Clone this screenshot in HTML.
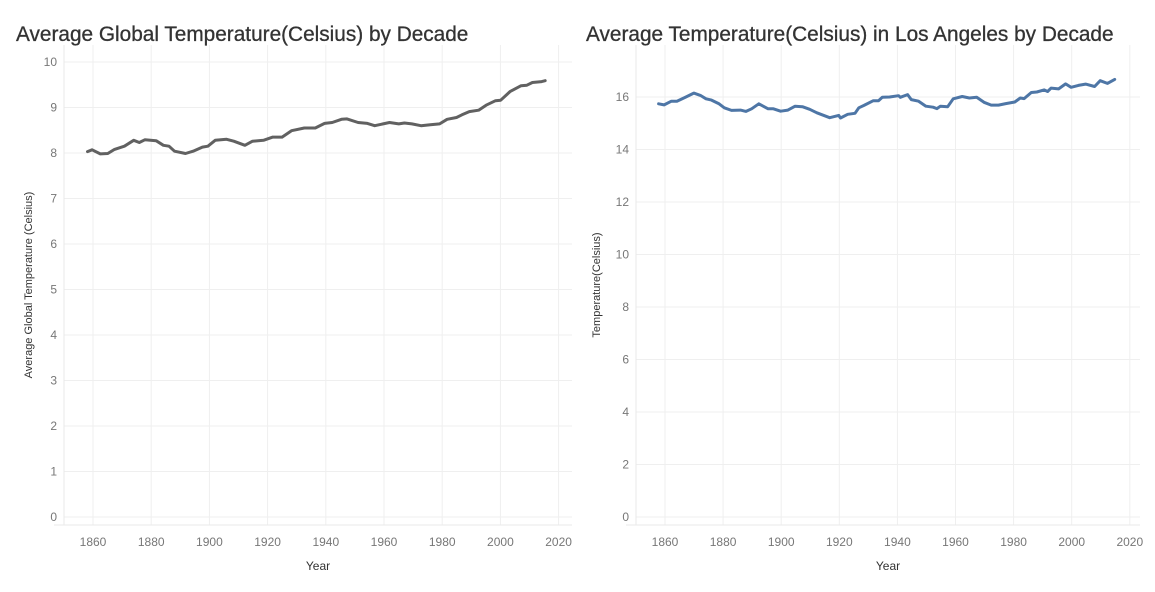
<!DOCTYPE html>
<html><head><meta charset="utf-8"><style>
html,body{margin:0;padding:0;background:#fff;width:1155px;height:592px;overflow:hidden;font-family:"Liberation Sans",sans-serif}
svg text{font-family:"Liberation Sans",sans-serif}
</style></head><body>
<svg id="chart" width="1155" height="592" xmlns="http://www.w3.org/2000/svg">
<text x="16" y="41" font-size="20.8" fill="#333" stroke="#333" stroke-width="0.3">Average Global Temperature(Celsius) by Decade</text>
<text x="586" y="41" font-size="20.8" fill="#333" stroke="#333" stroke-width="0.3">Average Temperature(Celsius) in Los Angeles by Decade</text>
</svg>
<script>
const xTicks = [1860,1880,1900,1920,1940,1960,1980,2000,2020];
const globalYTicks = [0,1,2,3,4,5,6,7,8,9,10];
const laYTicks = [0,2,4,6,8,10,12,14,16];
const globalYears = [1858.1,1859.7,1862.5,1865.1,1867.4,1870.8,1874.0,1875.9,1877.8,1881.7,1884.2,1886.1,1888.0,1891.8,1894.4,1897.6,1899.5,1902.0,1905.9,1908.4,1912.2,1914.8,1918.6,1921.8,1925.0,1928.2,1932.6,1936.4,1939.6,1942.2,1945.4,1947.3,1951.1,1954.3,1956.8,1961.9,1965.1,1967.0,1969.6,1972.7,1975.9,1979.1,1981.7,1984.9,1986.8,1989.3,1992.5,1995.1,1998.3,2000.1,2003.3,2007.1,2009.1,2011.0,2014.2,2015.4];
const globalTemps = [8.03,8.07,7.98,7.99,8.08,8.15,8.28,8.23,8.29,8.27,8.17,8.15,8.04,7.99,8.04,8.13,8.15,8.28,8.30,8.26,8.17,8.26,8.28,8.35,8.35,8.49,8.55,8.55,8.65,8.67,8.74,8.75,8.67,8.65,8.60,8.67,8.64,8.66,8.64,8.60,8.62,8.64,8.74,8.78,8.84,8.91,8.94,9.05,9.15,9.16,9.35,9.48,9.49,9.55,9.57,9.59];
const laYears = [1857.8,1859.7,1862.2,1864.1,1865.3,1867.2,1869.9,1872.2,1874.1,1876.0,1878.5,1880.4,1882.9,1886.0,1887.9,1889.8,1892.3,1895.5,1897.3,1899.8,1902.3,1904.8,1907.3,1909.8,1912.3,1916.7,1919.8,1920.4,1922.9,1925.4,1926.7,1928.5,1931.7,1933.5,1934.8,1937.3,1940.4,1941.0,1943.5,1944.8,1947.3,1949.8,1952.3,1953.6,1954.8,1957.3,1959.2,1962.3,1964.8,1967.3,1969.8,1972.3,1974.8,1977.3,1980.4,1982.3,1983.6,1986.1,1988.0,1990.5,1991.7,1992.9,1995.5,1997.9,1999.8,2002.3,2004.8,2007.9,2009.8,2012.3,2014.8];
const laTemps = [15.74,15.70,15.84,15.84,15.90,16.00,16.15,16.06,15.93,15.88,15.75,15.59,15.49,15.50,15.45,15.55,15.74,15.55,15.55,15.46,15.50,15.65,15.63,15.53,15.40,15.21,15.30,15.20,15.34,15.38,15.59,15.68,15.86,15.86,15.99,16.00,16.05,15.99,16.09,15.90,15.84,15.65,15.61,15.56,15.65,15.63,15.93,16.02,15.96,15.99,15.80,15.69,15.69,15.75,15.81,15.96,15.94,16.17,16.19,16.27,16.21,16.34,16.31,16.50,16.37,16.44,16.49,16.40,16.62,16.52,16.67];

const NS='http://www.w3.org/2000/svg';
const svg=document.getElementById('chart');
function mk(tag,attrs,parent){const e=document.createElementNS(NS,tag);for(const k in attrs)e.setAttribute(k,attrs[k]);(parent||svg).appendChild(e);return e;}

function drawChart(prefix,cfg,years,temps,yTicks,color,yTitle){
  const xScale=y=>cfg.x0+(y-1860)/20*cfg.xStep;
  const yScale=v=>cfg.yZero-(v-0)*(cfg.yZero-cfg.yTop)/(cfg.yMax);
  const g=mk('g',{});
  
  
  xTicks.forEach(t=>{
    const l=mk('line',{x1:xScale(t),x2:xScale(t),y1:cfg.top,y2:cfg.bottom,stroke:'#efefef','stroke-width':1},g);
    
    
    const tx=mk('text',{x:xScale(t),y:cfg.bottom+21,'font-size':12,fill:'#777','text-anchor':'middle'},g);
    tx.textContent=t;
    
    
  });
  yTicks.forEach(t=>{
    const l=mk('line',{x1:cfg.left,x2:cfg.right,y1:yScale(t),y2:yScale(t),stroke:'#efefef','stroke-width':1},g);
    
    
    const tx=mk('text',{x:cfg.left-7,y:yScale(t)+4,'font-size':12,fill:'#777','text-anchor':'end'},g);
    tx.textContent=t;
    
    
  });
  const ax=mk('line',{x1:cfg.left-10,x2:cfg.right,y1:cfg.bottom,y2:cfg.bottom,stroke:'#eaeaea'},g);
  
  
  const ay=mk('line',{x1:cfg.left,x2:cfg.left,y1:cfg.top,y2:cfg.bottom,stroke:'#eaeaea'},g);
  
  
  const xt=mk('text',{x:(cfg.left+cfg.right)/2,y:cfg.bottom+45,'font-size':12,fill:'#333','text-anchor':'middle'},g);
  xt.textContent='Year';
  
  
  const cy=(cfg.top+cfg.bottom)/2;
  const yt=mk('text',{x:cfg.yTitleX,y:cy,'font-size':11,fill:'#333','text-anchor':'middle',transform:`rotate(-90 ${cfg.yTitleX} ${cy})`},g);
  yt.textContent=yTitle;
  
  
  const d=years.map((y,i)=>(i?'L':'M')+xScale(y).toFixed(1)+','+yScale(temps[i]).toFixed(1)).join(' ');
  const p=mk('path',{d:d,fill:'none',stroke:color,'stroke-width':3,'stroke-linejoin':'round','stroke-linecap':'round'},g);
  
  
}

drawChart('global',{x0:93,xStep:58.2,left:64,right:572,top:45,bottom:525,yZero:517,yTop:62,yMax:10,yTitleX:32},
  globalYears,globalTemps,globalYTicks,'#616161','Average Global Temperature (Celsius)');
drawChart('la',{x0:665,xStep:58.1,left:636,right:1140,top:45,bottom:525,yZero:517,yTop:97,yMax:16,yTitleX:600},
  laYears,laTemps,laYTicks,'#4e76a6','Temperature(Celsius)');
</script>
</body></html>
